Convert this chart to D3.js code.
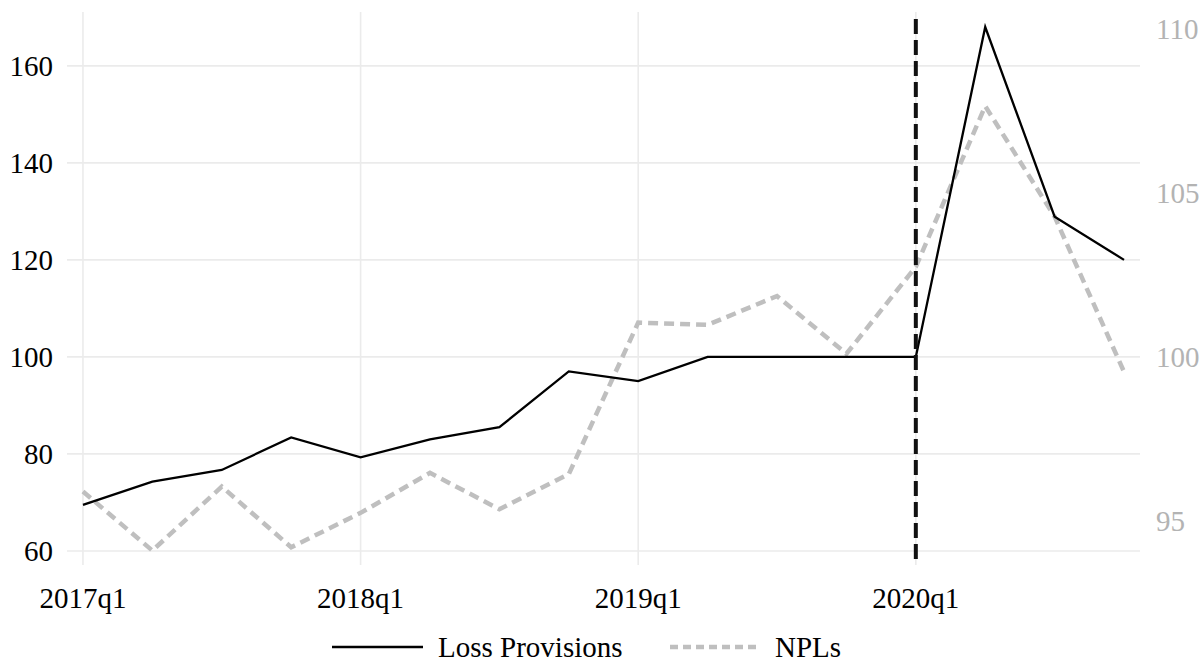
<!DOCTYPE html>
<html><head><meta charset="utf-8">
<script src="https://cdn.jsdelivr.net/npm/d3@7/dist/d3.min.js"></script>
<style>body{margin:0;background:#fff}svg{display:block}text{font-family:"Liberation Serif","Times New Roman",serif}</style>
</head><body><svg id="c" width="1203" height="662"></svg>
<script>
const quarters = ["2017q1","2017q2","2017q3","2017q4","2018q1","2018q2","2018q3","2018q4","2019q1","2019q2","2019q3","2019q4","2020q1","2020q2","2020q3","2020q4"];
const lossProvisions = [69.5,74.3,76.7,83.4,79.3,83.0,85.5,97.0,95.0,100,100,100,100,168.0,128.9,120.0];
const npls = [95.9,94.1,96.05,94.2,95.25,96.47,95.36,96.43,101.05,100.98,101.86,100.1,102.75,107.65,104.28,99.55];
const xTickLabels = ["2017q1","2018q1","2019q1","2020q1"];
const leftTicks = [60,80,100,120,140,160];
const rightTicks = [95,100,105,110];
const eventQuarter = "2020q1";
const seriesNames = ["Loss Provisions","NPLs"];

const svg = d3.select("#c");
const L = 67, R = 1140, T = 12, B = 565;
const FS = 29;
const x = d3.scaleLinear().domain([-0.23, 15.23]).range([L, R]);
const yL = d3.scaleLinear().domain([57.1, 171.1]).range([B, T]);
const yR = d3.scaleLinear().domain([93.66, 110.52]).range([B, T]);
const grid = "#ebebeb";

svg.append("g").selectAll("line").data(leftTicks).join("line")
  .attr("x1", L).attr("x2", R).attr("y1", d=>yL(d)).attr("y2", d=>yL(d))
  .attr("stroke", grid).attr("stroke-width", 1.6);
svg.append("g").selectAll("line").data(xTickLabels).join("line")
  .attr("x1", d=>x(quarters.indexOf(d))).attr("x2", d=>x(quarters.indexOf(d)))
  .attr("y1", T).attr("y2", B)
  .attr("stroke", grid).attr("stroke-width", 1.6);

svg.append("g").selectAll("text").data(leftTicks).join("text")
  .attr("x", 53).attr("y", d=>yL(d)).attr("dy","0.35em").attr("text-anchor","end")
  .attr("font-size", FS).attr("fill","#000").text(d=>d);
svg.append("g").selectAll("text").data(rightTicks).join("text")
  .attr("x", 1156).attr("y", d=>yR(d)).attr("dy","0.35em").attr("text-anchor","start")
  .attr("font-size", FS).attr("fill","#b3b3b3").text(d=>d);
svg.append("g").selectAll("text").data(xTickLabels).join("text")
  .attr("x", d=>x(quarters.indexOf(d))).attr("y", 598).attr("dy","0.35em").attr("text-anchor","middle")
  .attr("font-size", FS).attr("fill","#000").text(d=>d);

const lineR = d3.line().x((d,i)=>x(i)).y(d=>yR(d));
svg.append("path").datum(npls).attr("d", lineR).attr("fill","none")
  .attr("stroke","#bfbfbf").attr("stroke-width",4.5).attr("stroke-dasharray","10,6");
const lineL = d3.line().x((d,i)=>x(i)).y(d=>yL(d));
svg.append("path").datum(lossProvisions).attr("d", lineL).attr("fill","none")
  .attr("stroke","#000").attr("stroke-width",2.3).attr("stroke-linejoin","miter");

const ex = x(quarters.indexOf(eventQuarter));
svg.append("line").attr("x1",ex).attr("x2",ex).attr("y1",19).attr("y2",B)
  .attr("stroke","#111").attr("stroke-width",4).attr("stroke-dasharray","15,6");

const lg = svg.append("g");
lg.append("line").attr("x1",332).attr("x2",423).attr("y1",647).attr("y2",647).attr("stroke","#000").attr("stroke-width",2.3);
lg.append("text").attr("x",438).attr("y",647).attr("dy","0.35em").attr("font-size",FS).text(seriesNames[0]);
lg.append("line").attr("x1",670).attr("x2",757).attr("y1",647).attr("y2",647).attr("stroke","#bfbfbf").attr("stroke-width",4.5).attr("stroke-dasharray","8,5");
lg.append("text").attr("x",775).attr("y",647).attr("dy","0.35em").attr("font-size",FS).text(seriesNames[1]);
</script></body></html>
